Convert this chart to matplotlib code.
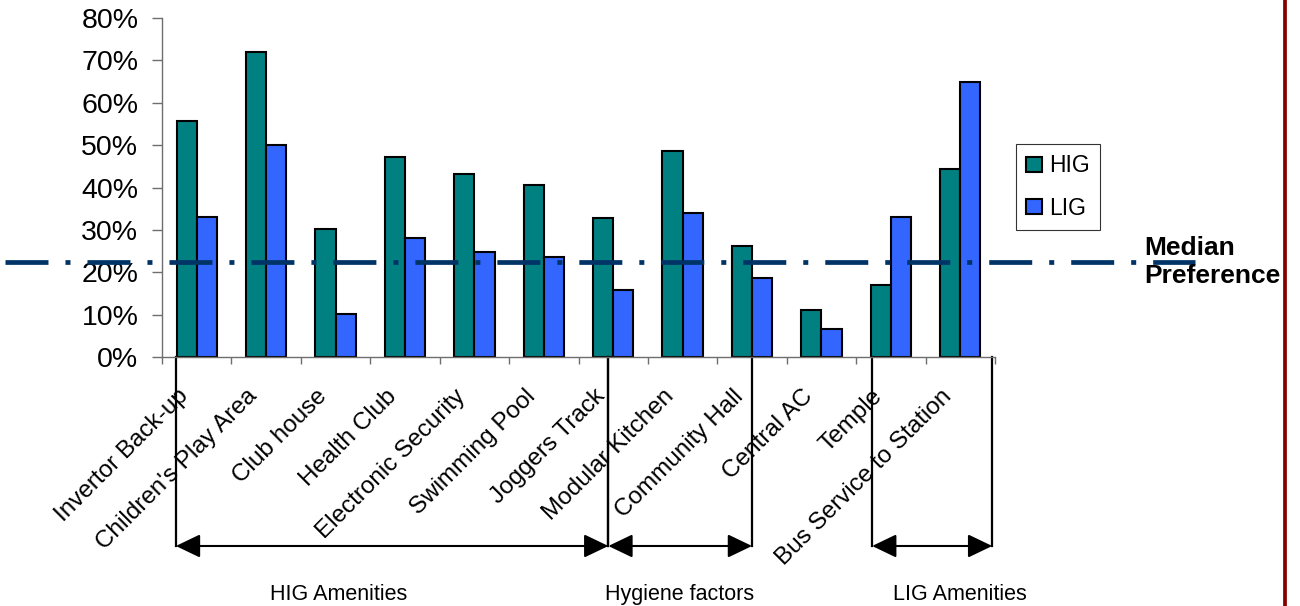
import matplotlib
matplotlib.use('Agg')
import matplotlib.pyplot as plt
import matplotlib.transforms as transforms
from matplotlib.lines import Line2D
import numpy as np

# --- DATA ---
amenities = ['Invertor Back-up', "Children's Play Area", 'Club house', 'Health Club',
             'Electronic Security', 'Swimming Pool', 'Joggers Track', 'Modular Kitchen',
             'Community Hall', 'Central AC', 'Temple', 'Bus Service to Station']
hig = [55.7, 71.9, 30.3, 47.3, 43.2, 40.7, 32.7, 48.7, 26.1, 11.0, 17.1, 44.4]
lig = [33.1, 50.1, 10.1, 28.0, 24.7, 23.7, 15.7, 34.1, 18.6, 6.7, 33.1, 64.8]
median_pref = 22.4
yticks = [0, 10, 20, 30, 40, 50, 60, 70, 80]

# amenity groups: (label, bracket start, bracket end, label x)
groups = [('HIG Amenities', -0.30, 5.93, 2.04),
          ('Hygiene factors', 5.93, 8.0, 6.96),
          ('LIG Amenities', 9.73, 11.46, 11.0)]

plt.rcParams['font.family'] = ['Liberation Sans', 'DejaVu Sans']

fig = plt.figure(figsize=(13, 6.06), dpi=100)
ax = fig.add_axes([162 / 1300, 1 - 357 / 606, 833 / 1300, 339 / 606])

x = np.arange(len(amenities))
w = 0.29
ax.bar(x - w / 2, hig, w, color='#008080', edgecolor='black', linewidth=1.5, label='HIG')
ax.bar(x + w / 2, lig, w, color='#3366FF', edgecolor='black', linewidth=1.5, label='LIG')

ax.set_xlim(-0.5, len(amenities) - 0.5)
ax.set_ylim(0, 80)
ax.set_yticks(yticks)
ax.set_yticklabels([f'{t}%' for t in yticks], fontsize=20.5)
ax.set_xticks(np.arange(-0.5, len(amenities), 1.0))
ax.set_xticklabels([])
ax.tick_params(axis='y', direction='out', length=7, width=1, color='#6e6e6e', pad=10)
ax.tick_params(axis='x', direction='out', length=5, width=1, color='#6e6e6e')
for s in ['top', 'right']:
    ax.spines[s].set_visible(False)
for s in ['left', 'bottom']:
    ax.spines[s].set_color('#6e6e6e')
    ax.spines[s].set_linewidth(1)

# rotated category labels
lbl_tr = transforms.offset_copy(ax.get_xaxis_transform(), fig=fig, x=-12, y=-36, units='dots')
for i, name in enumerate(amenities):
    ax.text(i, 0, name, transform=lbl_tr, rotation=45, ha='right', va='center',
            rotation_mode='anchor', fontsize=17.5, clip_on=False)

# median preference line across the whole slide
med_tr = transforms.blended_transform_factory(fig.transFigure, ax.transData)
fig.add_artist(Line2D([5 / 1300, 1195 / 1300], [median_pref, median_pref], transform=med_tr,
                      color='#003366', linewidth=3.4, linestyle=(0, (9.1, 3.6, 1.06, 3.6))))
fig.text(1144 / 1300, 1 - 262 / 606, 'Median\nPreference', fontsize=19, fontweight='bold',
         ha='left', va='center', linespacing=1.2)

# group brackets
y_br = -44.6
y_lbl = -57.3
for name, x0, x1, xl in groups:
    for xv in (x0, x1):
        ax.plot([xv, xv], [0, y_br], color='black', linewidth=1.6, clip_on=False)
    ax.annotate('', xy=(x1, y_br), xytext=(x0, y_br), annotation_clip=False,
                arrowprops=dict(arrowstyle='<|-|>,head_length=1.5,head_width=0.72',
                                mutation_scale=10, color='black', lw=1.5,
                                shrinkA=0, shrinkB=0))
    ax.text(xl, y_lbl, name, ha='center', va='baseline', fontsize=15.5, clip_on=False)

leg = ax.legend(loc='upper left', bbox_to_anchor=(1016 / 1300, 1 - 144 / 606),
                bbox_transform=fig.transFigure, borderaxespad=0, fontsize=16.5,
                frameon=True, fancybox=False, handlelength=0.7, handleheight=0.65,
                handletextpad=0.3, borderpad=0.45, labelspacing=0.85)
leg.get_frame().set_edgecolor('black')
leg.get_frame().set_linewidth(0.8)

# dark red rule on the right edge
fig.add_artist(Line2D([1285 / 1300, 1285 / 1300], [0, 1], transform=fig.transFigure,
                      color='#880000', linewidth=2.7))

plt.savefig('out.png', dpi=100)
